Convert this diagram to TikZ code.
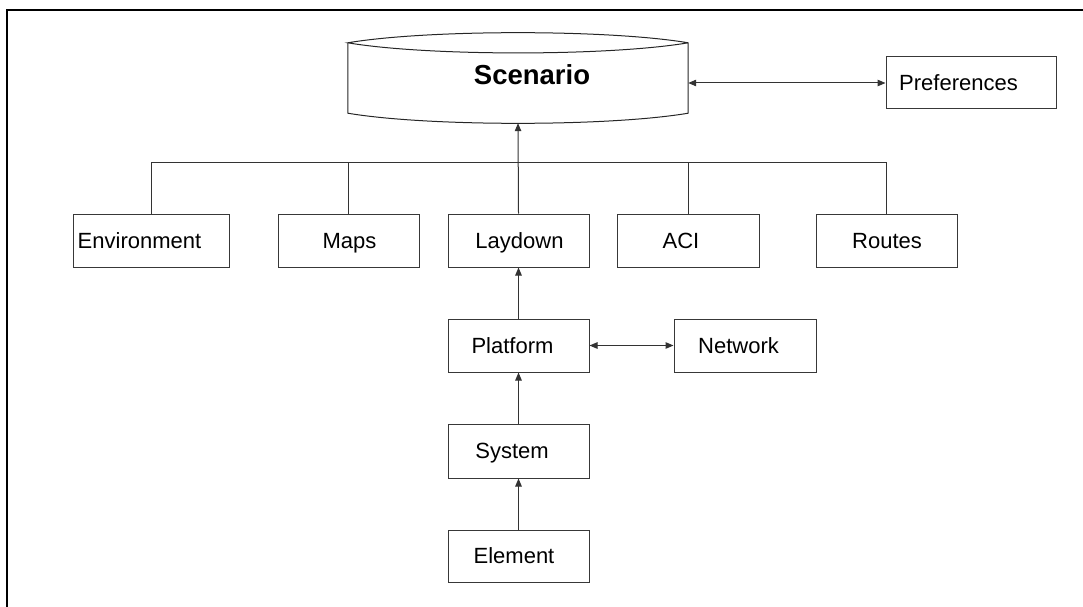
\documentclass[tikz,border=0pt]{standalone}
\usepackage{fontspec}
\setmainfont{Liberation Sans}
\usetikzlibrary{arrows.meta,calc}
\tikzset{
  box/.style={draw=black!78, line width=1pt, inner sep=0pt, minimum width=141pt, minimum height=53pt},
  lbl/.style={inner sep=0pt, font=\fontsize{22}{26}\selectfont, text height=15.75pt, text depth=0pt},
  conn/.style={draw=black!80, line width=1pt},
  arr/.style={conn, -{Triangle[length=8pt,width=6.5pt]}},
  dbl/.style={conn, {Triangle[length=8pt,width=6.5pt]}-{Triangle[length=8pt,width=6.5pt]}},
}
\begin{document}
\begin{tikzpicture}[x=1pt,y=-1pt]
\useasboundingbox (0,0) rectangle (1083,607);
% frame
\draw[line width=2pt] (7,607) -- (7,10) -- (1083,10);

% Scenario shape
\node[draw=none, inner sep=0pt, minimum width=340pt, minimum height=80pt] (scen) at (518,83) {};
\draw[draw=black!85, line width=1pt]
  (scen.north west) -- ([yshift=10pt]scen.south west)
  .. controls +(80,13.5) and +(-80,13.5) .. ([yshift=10pt]scen.south east)
  -- (scen.north east)
  .. controls +(-80,-13.5) and +(80,-13.5) .. (scen.north west)
  .. controls +(80,13.5) and +(-80,13.5) .. (scen.north east);
\node[inner sep=0pt, font=\bfseries\fontsize{27.5}{32}\selectfont, text height=19.7pt, text depth=0pt] (scenT) at ([xshift=14pt,yshift=8pt]scen.center) {Scenario};

% boxes
\node[box, minimum width=170pt, minimum height=52pt] (pref) at (971,83) {};
\node[box, minimum width=156pt] (env) at (151,240.5) {};
\node[box] (maps) at (348.5,240.5) {};
\node[box] (lay) at (518.5,240.5) {};
\node[box, minimum width=142pt] (aci) at (688,240.5) {};
\node[box] (routes) at (886.5,240.5) {};
\node[box] (plat) at (518.5,345.5) {};
\node[box, minimum width=142pt] (net) at (745,345.5) {};
\node[box, minimum height=54pt] (sys) at (518.5,451) {};
\node[box, minimum height=52pt] (elem) at (518.5,556) {};

% labels
\node[lbl] (prefT) at ([xshift=-12.5pt]pref.center) {Preferences};
\node[lbl] (envT) at ([xshift=-11.5pt]env.center) {Environment};
\node[lbl] (mapsT) at ([xshift=1pt]maps.center) {Maps};
\node[lbl] (layT) at ([xshift=1pt]lay.center) {Laydown};
\node[lbl] (aciT) at ([xshift=-7pt]aci.center) {ACI};
\node[lbl] (routesT) at ([xshift=0.5pt]routes.center) {Routes};
\node[lbl] (platT) at ([xshift=-6pt]plat.center) {Platform};
\node[lbl] (netT) at ([xshift=-6.5pt]net.center) {Network};
\node[lbl] (sysT) at ([xshift=-6.5pt]sys.center) {System};
\node[lbl] (elemT) at ([xshift=-4.5pt]elem.center) {Element};

% bus
\coordinate (bus) at (0,162);
\draw[conn] (env.north) -- (env.north |- bus) -- (routes.north |- bus) -- (routes.north);
\draw[conn] (maps.north) -- (maps.north |- bus);
\draw[conn] (aci.north) -- (aci.north |- bus);

% arrows
\draw[arr] (lay.north) -- (scen.south);
\draw[dbl] (scen.east) -- (pref.west);
\draw[arr] (plat.north) -- (lay.south);
\draw[dbl] (plat.east) -- (net.west);
\draw[arr] (sys.north) -- (plat.south);
\draw[arr] (elem.north) -- (sys.south);
\end{tikzpicture}
\end{document}
